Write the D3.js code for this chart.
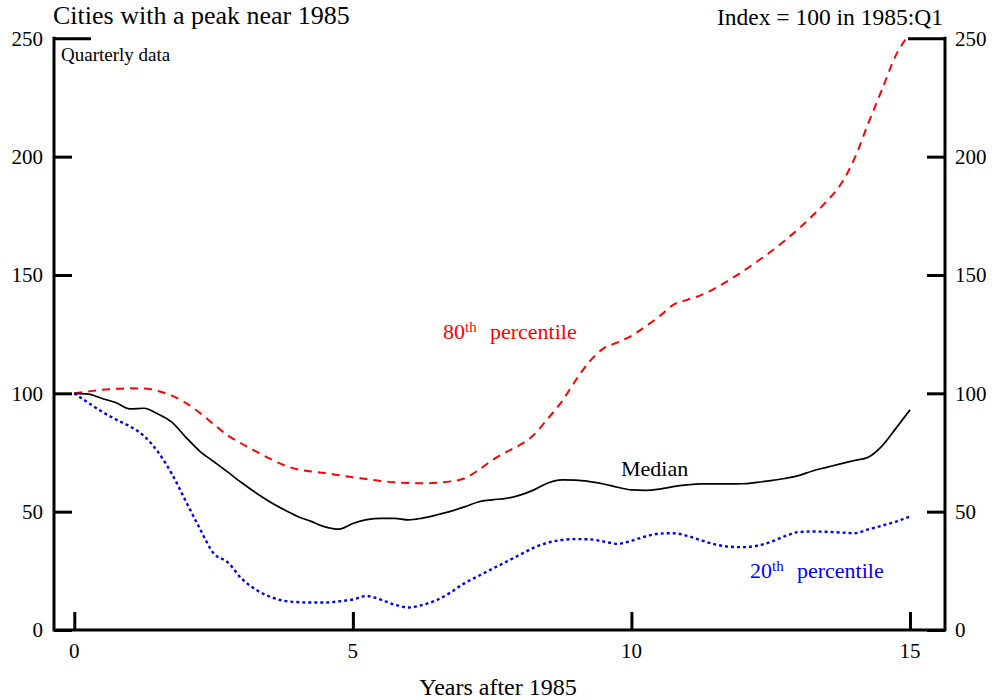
<!DOCTYPE html>
<html>
<head>
<meta charset="utf-8">
<script src="https://cdn.jsdelivr.net/npm/d3@7"></script>
<style>
  html, body { margin: 0; padding: 0; background: #fff; }
  svg { display: block; }
  text { font-family: "Liberation Serif", "Times New Roman", serif; fill: #000; }
</style>
</head>
<body>
<svg id="chart" width="992" height="700"></svg>
<script>
// Quarterly data, years after 1985 (0 .. 15 step 0.25)
const quarters = d3.range(0, 61).map(i => i / 4);
const median = [100, 99.7, 97.8, 96, 93.4, 93.7, 91.3, 87.8, 81.5, 75.6, 71.2, 66.8, 62.3, 58.1, 54.3, 51,
  48.1, 45.9, 43.6, 42.6, 45, 46.6, 47.2, 47.2, 46.5, 47.3, 48.6, 50.1, 52, 54.1, 55, 55.6,
  57, 59.2, 62.1, 63.4, 63.3, 62.7, 61.7, 60.3, 59.2, 59, 59.5, 60.6, 61.3, 61.7, 61.7, 61.7,
  61.8, 62.4, 63.1, 64, 65.2, 67.2, 68.7, 70.2, 71.6, 73, 77.8, 85.3, 93];
const pct80 = [100, 100.8, 101.5, 101.9, 102.1, 102, 101, 99, 96, 91.8, 87, 82.3, 78.8, 75.6, 72.5, 69.8,
  67.9, 67, 66.3, 65.4, 64.5, 63.8, 63, 62.4, 62.1, 62, 62.2, 62.8, 64, 67.5, 71.7, 75.2,
  78.2, 82.5, 89.3, 96.5, 105.5, 113.5, 119, 121.5, 124.3, 128.2, 132.5, 137.4, 139.5, 141.5, 144.3, 147.8,
  151.5, 155.6, 159.8, 164.5, 169.5, 175, 181, 188, 199, 214, 228.5, 243, 252];
const pct20 = [100, 96, 92.2, 88.9, 86, 82, 75.3, 66, 54.5, 43, 32.4, 28.7, 21.8, 17.2, 14.2, 12.4,
  11.8, 11.6, 11.6, 12.1, 12.9, 14.4, 12.8, 10.7, 9.5, 10.6, 12.6, 15.8, 19.7, 22.8, 25.8, 28.8,
  31.8, 34.8, 36.9, 38, 38.4, 38.3, 37.4, 36.4, 37.7, 39.5, 40.7, 40.9, 39.8, 37.9, 36.2, 35.2,
  35, 35.6, 37.2, 39.6, 41.4, 41.6, 41.5, 41.2, 40.9, 42.5, 44.1, 45.8, 48];
const xTicks = [0, 5, 10, 15];
const yTicks = [0, 50, 100, 150, 200, 250];

(function () {
const svg = d3.select("#chart");
const pL = 54, pR = 945, pT = 38.3, pB = 630;
const x = d3.scaleLinear().domain([0, 15]).range([74.3, 910]);
const y = d3.scaleLinear().domain([0, 250]).range([pB, pT]);

svg.append("defs").append("clipPath").attr("id", "plotclip")
  .append("rect").attr("x", pL).attr("y", pT).attr("width", pR - pL).attr("height", pB - pT);

// Title texts
svg.append("text").attr("x", 53).attr("y", 24).attr("font-size", 26).text("Cities with a peak near 1985");
svg.append("text").attr("x", 943).attr("y", 25).attr("font-size", 23.5).attr("text-anchor", "end").text("Index = 100 in 1985:Q1");
svg.append("text").attr("x", 61).attr("y", 61).attr("font-size", 19).text("Quarterly data");

// Axes frame (no top border)
svg.append("path").attr("d", `M${pL},${pT - 1.5}V${pB}H${pR}V${pT - 1.5}`)
  .attr("stroke", "#000").attr("stroke-width", 3).attr("fill", "none");

// Left axis ticks (inward)
const yAxisL = d3.axisRight(y).tickValues(yTicks).tickSize(18).tickFormat("");
const gl = svg.append("g").attr("transform", `translate(${pL},0)`).call(yAxisL);
gl.select(".domain").remove();
gl.selectAll(".tick line").attr("stroke-width", 3).attr("x2", d => d === 250 ? 37 : 18);
const yAxisR = d3.axisLeft(y).tickValues(yTicks).tickSize(18).tickFormat("");
const gr = svg.append("g").attr("transform", `translate(${pR},0)`).call(yAxisR);
gr.select(".domain").remove();
gr.selectAll(".tick line").attr("stroke-width", 3).attr("x2", d => d === 250 ? -37 : -18);

// y labels
yTicks.forEach(v => {
  svg.append("text").attr("x", 43).attr("y", y(v)).attr("dy", "0.35em").attr("font-size", 21)
    .attr("text-anchor", "end").text(v);
  svg.append("text").attr("x", 955).attr("y", y(v)).attr("dy", "0.35em").attr("font-size", 21)
    .attr("text-anchor", "start").text(v);
});

// x ticks
const xAxis = d3.axisTop(x).tickValues(xTicks).tickSize(18).tickFormat("");
const gx = svg.append("g").attr("transform", `translate(0,${pB})`).call(xAxis);
gx.select(".domain").remove();
gx.selectAll(".tick line").attr("stroke-width", 3);
xTicks.forEach(v => {
  svg.append("text").attr("x", x(v)).attr("y", 658).attr("font-size", 21).attr("text-anchor", "middle").text(v);
});
svg.append("text").attr("x", 498).attr("y", 695).attr("font-size", 24).attr("text-anchor", "middle").text("Years after 1985");

// Lines
const line = d3.line().x((d, i) => x(quarters[i])).y(d => y(d)).curve(d3.curveMonotoneX);
const plot = svg.append("g").attr("clip-path", "url(#plotclip)");
plot.append("path").datum(pct80).attr("d", line).attr("fill", "none").attr("stroke", "#ff0000")
  .attr("stroke-width", 2).attr("stroke-dasharray", "8,6");
plot.append("path").datum(median).attr("d", line).attr("fill", "none").attr("stroke", "#000")
  .attr("stroke-width", 1.7);
plot.append("path").datum(pct20).attr("d", line).attr("fill", "none").attr("stroke", "#0000ff")
  .attr("stroke-width", 2.4).attr("stroke-dasharray", "3,3");

// Series labels
function label(xp, yp, color, sup, rest, restX) {
  const t = svg.append("text").attr("x", xp).attr("y", yp).attr("font-size", 22).style("fill", color);
  if (sup) {
    t.append("tspan").text(sup.num);
    t.append("tspan").attr("font-size", 15).attr("dy", -7).text(sup.s);
    t.append("tspan").attr("dy", 7).attr("x", restX).text(rest);
  } else {
    t.text(rest);
  }
}
label(443, 339, "#ff0000", {num: "80", s: "th"}, "percentile", 490);
label(621, 476, "#000", null, "Median");
label(750, 578, "#0000ff", {num: "20", s: "th"}, "percentile", 797);
})();
</script>
</body>
</html>
